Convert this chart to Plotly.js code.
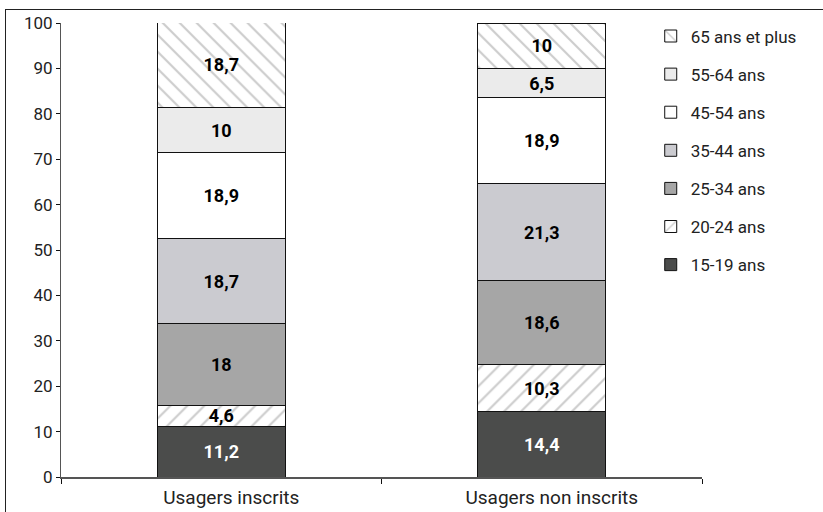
<!DOCTYPE html>
<html>
<head>
<meta charset="utf-8">
<script src="https://cdn.plot.ly/plotly-3.0.1.min.js"></script>
<style>
html,body{margin:0;padding:0;background:#fff;}
#wrap{position:relative;width:823px;height:512px;}
#frame{position:absolute;left:5px;top:9px;right:0;bottom:0;border-left:1px solid #222;border-top:1px solid #222;pointer-events:none;}
#chart{position:absolute;left:0;top:0;width:823px;height:512px;}
</style>
</head>
<body>
<div id="wrap"><div id="chart"></div><div id="frame"></div></div>
<script>
const categories = ["Usagers inscrits", "Usagers non inscrits"];
const seriesNames = ["15-19 ans", "20-24 ans", "25-34 ans", "35-44 ans", "45-54 ans", "55-64 ans", "65 ans et plus"];
const v15_19 = [11.2, 14.4];
const v20_24 = [4.6, 10.3];
const v25_34 = [18, 18.6];
const v35_44 = [18.7, 21.3];
const v45_54 = [18.9, 18.9];
const v55_64 = [10, 6.5];
const v65plus = [18.7, 10];
const yTicks = [0, 10, 20, 30, 40, 50, 60, 70, 80, 90, 100];

const values = [v15_19, v20_24, v25_34, v35_44, v45_54, v55_64, v65plus];
const fills = ["#4b4c4b", "#ffffff", "#a6a6a6", "#cbcbd0", "#ffffff", "#ebebeb", "#ffffff"];
const patterns = ["", "/", "", "", "", "", "\\"];
const textColors = ["#ffffff", "#000", "#000", "#000", "#000", "#000", "#000"];

const fmt = v => String(v).replace('.', ',');
const FONT = 'Roboto, Arial, sans-serif';

const traces = values.map((vals, i) => ({
  type: 'bar',
  name: seriesNames[i],
  x: categories,
  y: vals,
  text: vals.map(fmt),
  textposition: 'inside',
  insidetextanchor: 'middle',
  textangle: 0,
  constraintext: 'none',
  textfont: {family: FONT, size: 18, color: textColors[i], weight: 'bold'},
  hoverinfo: 'none',
  legendgroup: 'g' + i,
  legendrank: 100 - i,
  marker: {
    color: fills[i],
    line: {color: '#111', width: 1},
    pattern: patterns[i] ? {shape: patterns[i], fgcolor: '#9a9a9a', bgcolor: '#ffffff', size: 12, solidity: 0.18, fillmode: 'overlay'} : {shape: ''}
  }
}));

const layout = {
  width: 823, height: 512,
  margin: {l: 61, r: 121, t: 23, b: 35},
  barmode: 'stack',
  bargap: 0.6,
  paper_bgcolor: '#fff',
  plot_bgcolor: '#fff',
  font: {family: FONT, size: 17, color: '#222'},
  showlegend: true,
  legend: {
    x: 0.92, y: 1.01, xanchor: 'left', yanchor: 'top',
    traceorder: 'grouped',
    tracegroupgap: 13,
    font: {family: FONT, size: 17, color: '#222'},
    itemwidth: 30,
    bgcolor: 'rgba(0,0,0,0)'
  },
  xaxis: {
    type: 'category',
    showgrid: false,
    showline: true, linecolor: '#555', linewidth: 2,
    ticks: 'outside', tickson: 'boundaries', ticklen: 5, tickcolor: '#111', tickwidth: 1,
    tickfont: {family: FONT, size: 19, color: '#222'},
    ticklabelshift: 10,
    ticklabelstandoff: 2,
    zeroline: false
  },
  yaxis: {
    range: [0, 100],
    tickvals: yTicks,
    ticktext: yTicks.map(String),
    showgrid: false,
    showline: true, linecolor: '#555', linewidth: 1,
    ticks: 'outside', ticklen: 4, tickcolor: '#111',
    tickfont: {family: FONT, size: 17, color: '#222'},
    zeroline: false
  }
};

Plotly.newPlot('chart', traces, layout, {displayModeBar: false, staticPlot: true});
</script>
</body>
</html>
